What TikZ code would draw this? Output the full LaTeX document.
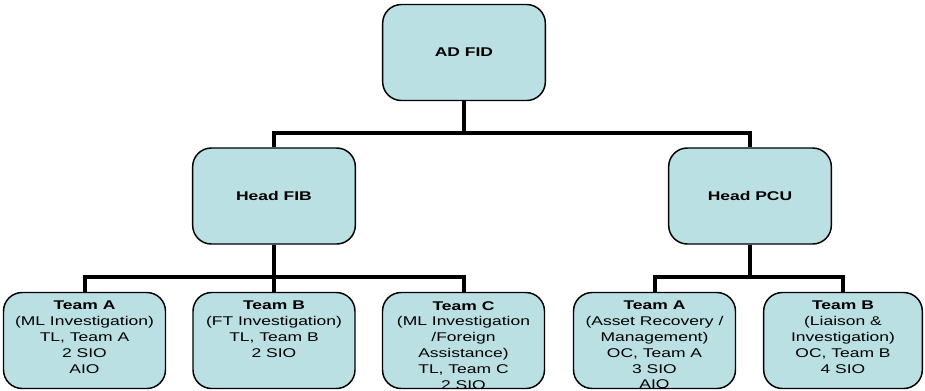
\documentclass[tikz,border=0pt]{standalone}
\usepackage{fontspec}
\setmainfont{Liberation Sans}[FakeStretch=1.38]
\usepackage{tikz}
\usetikzlibrary{positioning}
\definecolor{boxblue}{RGB}{187,224,227}

\begin{document}
\begin{tikzpicture}[x=0.75pt,y=-0.75pt,
      every node/.style={font=\fontsize{9.5}{11.85}\selectfont},
      unit/.style={draw,fill=boxblue,rounded corners=14pt,line width=1.1pt,
        minimum width=122pt,minimum height=72pt,inner sep=0pt},
      team/.style={unit,minimum width=121.5pt},
      team text/.style={anchor=north,align=center,inner sep=0pt,yshift=-6.9pt},
      link/.style={line width=3pt}]

      \useasboundingbox (0,0) rectangle (925,390);

      % top levels
      \node[unit] (root) at (464,52.5) {\textbf{AD FID}};
      \node[unit] (head-fib) at (274,196) {\textbf{Head FIB}};
      \node[unit] (head-pcu) at (750,196) {\textbf{Head PCU}};

      % teams
      \node[team] (fib-A) at (84.5,340.5) {};
      \node[team] (fib-B) at (274,340.5) {};
      \node[team] (fib-C) at (463.5,340.5) {};
      \node[team] (pcu-A) at (654.5,340.5) {};
      \node[team,minimum width=119pt] (pcu-B) at (843,340.5) {};

      \node[team text] (fib-A-text) at (fib-A.north)
        {\textbf{Team A}\\(ML Investigation)\\TL, Team A\\2 SIO\\AIO};
      \node[team text] (fib-B-text) at (fib-B.north)
        {\textbf{Team B}\\(FT Investigation)\\TL, Team B\\2 SIO};
      \node[team text] (fib-C-text) at (fib-C.north)
        {\textbf{Team C}\\(ML Investigation\\/Foreign\\Assistance)\\TL, Team C\\2 SIO};
      \node[team text] (pcu-A-text) at (pcu-A.north)
        {\textbf{Team A}\\(Asset Recovery /\\Management)\\OC, Team A\\3 SIO\\AIO};
      \node[team text] (pcu-B-text) at (pcu-B.north)
        {\textbf{Team B}\\(Liaison \&\\Investigation)\\OC, Team B\\4 SIO};

      % connectors
      \coordinate (top-bus) at (464,133);
      \coordinate (fib-bus) at (274,277);
      \coordinate (pcu-bus) at (750,277);

      \draw[link] (root.south) -- (top-bus);
      \draw[link] (head-fib.north) |- (top-bus) -| (head-pcu.north);
      \draw[link] (head-fib.south) -- (fib-B.north);
      \draw[link] (fib-A.north) |- (fib-bus) -| (fib-C.north);
      \draw[link] (head-pcu.south) -- (pcu-bus);
      \draw[link] (pcu-A.north) |- (pcu-bus) -| (pcu-B.north);
    \end{tikzpicture}
\end{document}
